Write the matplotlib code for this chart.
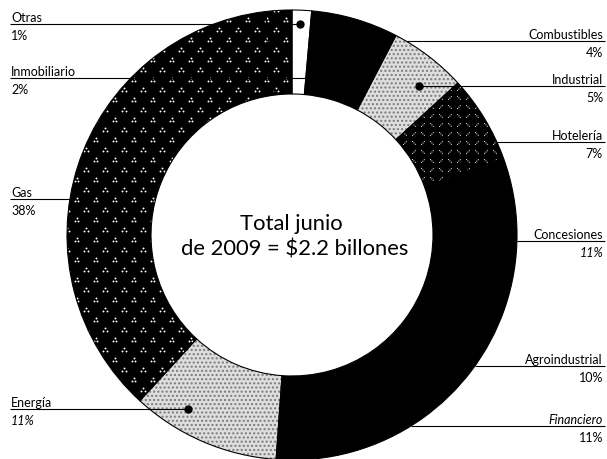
import numpy as np
import matplotlib
matplotlib.use("Agg")
import matplotlib.pyplot as plt
from matplotlib.collections import LineCollection

# ---------------- data ----------------
sectors = ["Otras", "Combustibles", "Industrial", "Hotelería", "Concesiones",
           "Agroindustrial", "Financiero", "Energía", "Gas", "Inmobiliario"]
# printed shares (%)
pct = [1, 4, 5, 7, 11, 10, 11, 11, 38, 2]
# share of the ring each slice occupies as drawn in the picture (%)
arc_share = [1.4, 6.25, 5.55, 6.25, 10.9, 9.9, 10.9, 10.7, 36.3, 1.9]
center_title = ["Total junio", "de 2009 = $2.2 billones"]

# ---------------- styles / layout ----------------
FONT = ["Lato", "DejaVu Sans"]
plt.rcParams["font.family"] = FONT
fill = {"Otras": "white", "Combustibles": "solid", "Industrial": "stipple",
        "Hotelería": "weave", "Concesiones": "solid", "Agroindustrial": "solid",
        "Financiero": "solid", "Energía": "stipple", "Gas": "dots",
        "Inmobiliario": "dots"}
# side, y of rule (px), end x of rule (None -> ring edge), dot at end
label_layout = {
    "Otras": ("L", 25, 300, True),
    "Inmobiliario": ("L", 79, 306, False),
    "Gas": ("L", 200, None, False),
    "Energía": ("L", 410, 188, True),
    "Combustibles": ("R", 42, None, False),
    "Industrial": ("R", 87, 419, True),
    "Hotelería": ("R", 143, None, False),
    "Concesiones": ("R", 242, None, False),
    "Agroindustrial": ("R", 367, None, False),
    "Financiero": ("R", 427, None, False),
}
name_italic = {"Financiero"}
pct_italic = {"Concesiones", "Energía"}

W, H = 607, 460
CX, CY, R, RW = 292, 236, 225, 84

fig = plt.figure(figsize=(W / 100, H / 100), dpi=100)
ax = fig.add_axes([0, 0, 1, 1])

wedges, _ = ax.pie(arc_share, startangle=-90, counterclock=True,
                   center=(CX, CY), radius=R,
                   wedgeprops=dict(width=RW, linewidth=0))
for w, name in zip(wedges, sectors):
    st = fill[name]
    w.set_zorder(1)
    if st == "white":
        w.set_facecolor("white")
    elif st == "stipple":
        w.set_facecolor("#dedede")
        w.set_edgecolor("#7a7a7a")
        w.set_linewidth(0)
        w.set_hatch("....")
    else:
        w.set_facecolor("black")

# textures for dotted (Gas / Inmobiliario) slices
rows = np.arange(0.5, H + 10, 10)
pts = []
for i, yy in enumerate(rows):
    xs = np.arange(0.5 if i % 2 == 0 else 10.0, W + 19, 19)
    for xx in xs:
        pts.append((xx, yy))
pts = np.array(pts)
tri = np.array([[0, -1.5], [-1.7, 1.0], [1.7, 1.0]])
for w, name in zip(wedges, sectors):
    if fill[name] == "dots":
        p = (pts[:, None, :] + tri[None, :, :]).reshape(-1, 2)
        sc = ax.scatter(p[:, 0], p[:, 1], s=1.9, marker="o", c="white",
                        linewidths=0, zorder=2)
        sc.set_clip_path(w)

# texture for Hotelería (white dashed weave)
segs = []
step = 9
for i, yy in enumerate(np.arange(0, H + step, step)):
    for j, xx in enumerate(np.arange(0, W + step, step)):
        d = 1.8
        if (i + j) % 2 == 0:
            segs.append([(xx - d, yy - d), (xx + d, yy + d)])
        else:
            segs.append([(xx - d, yy + d), (xx + d, yy - d)])
for w, name in zip(wedges, sectors):
    if fill[name] == "weave":
        lc = LineCollection(segs, colors="white", linewidths=0.7,
                            linestyles=(0, (1.0, 1.0)), zorder=2)
        ax.add_collection(lc)
        lc.set_clip_path(w)

# outlines
outl, _ = ax.pie(arc_share, startangle=-90, counterclock=True,
                 center=(CX, CY), radius=R,
                 wedgeprops=dict(width=RW, facecolor="none",
                                 edgecolor="black", linewidth=0.8))
for w in outl:
    w.set_zorder(3)

# labels with rules
for name, p in zip(sectors, pct):
    side, y, xend, dot = label_layout[name]
    if xend is None:
        dx = np.sqrt(max(R ** 2 - (y - CY) ** 2, 0))
        xend = CX - dx if side == "L" else CX + dx
    if side == "L":
        x0, xtext, ha = 10, 11, "left"
        ax.plot([x0, xend], [y, y], color="black", lw=0.8, zorder=4,
                solid_capstyle="butt")
    else:
        x0, xtext, ha = 605, 603, "right"
        ax.plot([xend, x0], [y, y], color="black", lw=0.8, zorder=4,
                solid_capstyle="butt")
    if dot:
        ax.plot([xend], [y], "o", color="black", ms=5, zorder=5)
    ax.text(xtext, y - 3, name, ha=ha, va="baseline", fontsize=9,
            style="italic" if name in name_italic else "normal", zorder=6)
    ax.text(xtext, y + 15, f"{p}%", ha=ha, va="baseline", fontsize=9,
            style="italic" if name in pct_italic else "normal", zorder=6)

# centre text
ax.text(CX - 1, 230, center_title[0], ha="center", va="baseline",
        fontsize=15.8)
ax.text(CX + 3, 255, center_title[1], ha="center", va="baseline",
        fontsize=15.8)

ax.set_xlim(0, W)
ax.set_ylim(H, 0)
ax.set_aspect("equal")
ax.axis("off")
fig.savefig("out.png", dpi=100, facecolor="white")
